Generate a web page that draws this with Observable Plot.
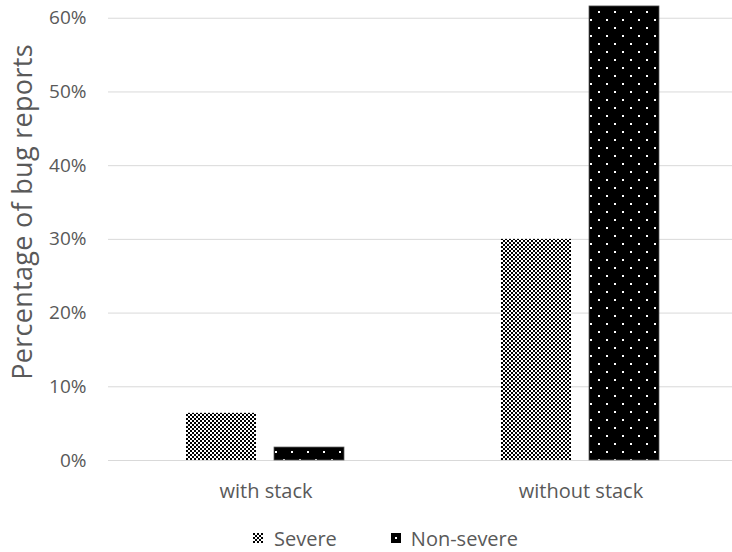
<!DOCTYPE html>
<html>
<head>
<meta charset="utf-8">
<script src="https://cdn.jsdelivr.net/npm/d3@7"></script>
<script src="https://cdn.jsdelivr.net/npm/@observablehq/plot@0.6"></script>
<style>
  html, body { margin: 0; padding: 0; background: #fff; overflow: hidden; }
  #wrap { position: relative; width: 732px; height: 552px; font-family: "Open Sans", sans-serif; color: #595959; }
  #ylabel { position: absolute; left: 21px; top: 212px; transform: translate(-50%, -50%) rotate(-90deg); white-space: nowrap; font-size: 27px; letter-spacing: 0.3px; line-height: 1; }
  #legend { position: absolute; left: 253px; top: 524px; display: flex; align-items: center; font-size: 20px; height: 28px; }
  #legend .item { display: flex; align-items: center; }
  #legend svg { display: block; }
  #chart [aria-label^="fx-axis"] text { font-size: 20px; }
</style>
</head>
<body>
<div id="wrap">
  <div id="chart"></div>
  <div id="ylabel">Percentage of bug reports</div>
  <div id="legend"></div>
</div>
<script>
const categories = ["with stack", "without stack"];
const series = ["Severe", "Non-severe"];
const severeValues = [0.064, 0.30];
const nonSevereValues = [0.0176, 0.616];
const yTicks = [0, 0.1, 0.2, 0.3, 0.4, 0.5, 0.6];

const data = categories.flatMap((c, i) => [
  {category: c, series: "Severe", value: severeValues[i]},
  {category: c, series: "Non-severe", value: nonSevereValues[i]}
]);

const fills = {"Severe": "url(#pSevere)", "Non-severe": "url(#pNon)"};

const plot = Plot.plot({
  width: 732,
  height: 500,
  marginLeft: 108,
  marginRight: -6,
  marginTop: 3,
  marginBottom: 40,
  style: {fontFamily: "Open Sans, sans-serif", fontSize: "19px", color: "#595959", background: "transparent", overflow: "visible"},
  fx: {domain: categories, padding: 0, label: null, axis: "bottom", tickSize: 0, tickPadding: 23},
  x: {domain: series, axis: null, paddingInner: 0.2, paddingOuter: 0.87},
  y: {domain: [0, 0.62], ticks: yTicks, tickFormat: d3.format(".0%"), tickSize: 0, tickPadding: 22, label: null},
  marks: [
    Plot.ruleY(yTicks, {stroke: "#d9d9d9", strokeWidth: 1}),
    Plot.barY(data.filter(d => d.series === "Severe"), {fx: "category", x: "series", y: "value", fill: fills["Severe"]}),
    Plot.barY(data.filter(d => d.series === "Non-severe"), {fx: "category", x: "series", y: "value", fill: fills["Non-severe"], stroke: "#595959", strokeWidth: 0.75})
  ]
});

const defs = `<defs>
  <pattern id="pSevere" patternUnits="userSpaceOnUse" width="4" height="4">
    <rect width="4" height="4" fill="#fff"/>
    <rect x="0" y="0" width="2" height="2" fill="#000"/>
    <rect x="2" y="2" width="2" height="2" fill="#000"/>
  </pattern>
  <pattern id="pNon" patternUnits="userSpaceOnUse" width="16" height="16">
    <rect width="16" height="16" fill="#000"/>
    <rect x="3" y="3" width="2" height="2" fill="#fff"/>
    <rect x="11" y="11" width="2" height="2" fill="#fff"/>
  </pattern>
</defs>`;
plot.insertAdjacentHTML("afterbegin", defs);
document.getElementById("chart").appendChild(plot);

const legend = document.getElementById("legend");
series.forEach((s, i) => {
  const item = document.createElement("div");
  item.className = "item";
  if (i > 0) item.style.marginLeft = "54px";
  const sw = s === "Severe"
    ? `<svg width="10" height="10" style="margin-right:11px"><rect width="10" height="10" fill="url(#pSevere)"/></svg>`
    : `<svg width="10" height="10" style="margin-right:10px"><rect width="10" height="10" fill="#000"/><rect x="4" y="4" width="2" height="2" fill="#fff"/></svg>`;
  item.innerHTML = sw + `<span>${s}</span>`;
  legend.appendChild(item);
});
</script>
</body>
</html>
